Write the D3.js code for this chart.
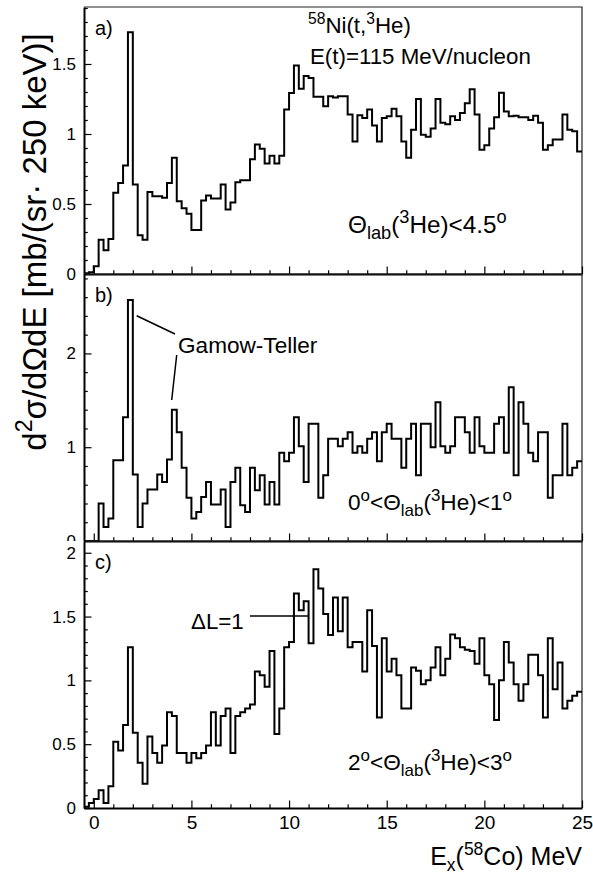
<!DOCTYPE html>
<html>
<head>
<meta charset="utf-8">
<script src="https://cdn.jsdelivr.net/npm/d3@7"></script>
<style>
  body { margin: 0; background: #fff; }
  text { font-family: "Liberation Sans", Arial, Helvetica, sans-serif; fill: #000; }
</style>
</head>
<body>
<svg id="chart" width="593" height="873"></svg>
<script>
// Excitation-energy binning (MeV)
const binWidth = 0.25;
const xMin = -0.5;
const xMax = 25;
const xMajorTicks = [0, 5, 10, 15, 20, 25];

// a) Theta_lab(3He) < 4.5 deg, counts per 250 keV bin starting at -0.5 MeV
const spectrumA = [
  0.005, 0.012, 0.055, 0.245, 0.17, 0.25, 0.58, 0.65, 0.775, 1.727,
  0.64, 0.276, 0.245, 0.585, 0.556, 0.556, 0.545, 0.65, 0.83, 0.52,
  0.47, 0.43, 0.315, 0.315, 0.525, 0.56, 0.54, 0.54, 0.64, 0.46,
  0.51, 0.655, 0.67, 0.67, 0.82, 0.925, 0.895, 0.79, 0.845, 0.79,
  0.845, 1.175, 1.293, 1.49, 1.323, 1.415, 1.40, 1.266, 1.266, 1.199,
  1.27, 1.26, 1.27, 1.27, 1.14, 0.947, 1.133, 1.115, 1.175, 1.06,
  0.947, 1.115, 1.127, 1.18, 1.127, 0.947, 0.83, 1.03, 1.25, 0.995,
  0.98, 1.04, 1.25, 1.08, 1.07, 1.127, 1.10, 1.15, 1.22, 1.32,
  1.14, 0.887, 0.92, 1.04, 1.12, 1.295, 1.16, 1.127, 1.13, 1.12,
  1.12, 1.10, 1.13, 1.08, 0.887, 0.92, 0.96, 0.96, 1.14, 1.03,
  1.02, 0.875
];

// b) 0 deg < Theta_lab(3He) < 1 deg
const spectrumB = [
  0, 0, 0, 0.40, 0.15, 0.24, 0.86, 0.86, 1.32, 2.57,
  0.71, 0.15, 0.40, 0.55, 0.55, 0.71, 0.63, 0.87, 1.40, 1.16,
  0.78, 0.46, 0.24, 0.31, 0.47, 0.63, 0.39, 0.39, 0.55, 0.15,
  0.63, 0.78, 0.38, 0.31, 0.78, 0.54, 0.70, 0.39, 0.63, 0.39,
  0.94, 0.85, 0.94, 1.32, 1.01, 0.63, 1.25, 1.25, 0.46, 0.70,
  1.09, 1.09, 1.01, 1.09, 1.16, 0.94, 1.01, 0.94, 1.09, 1.16,
  0.85, 1.16, 1.25, 1.09, 1.09, 0.78, 1.09, 1.25, 0.70, 1.25,
  1.25, 1.00, 1.48, 1.01, 0.94, 1.01, 1.32, 1.32, 1.16, 0.94,
  1.32, 1.01, 0.94, 0.94, 1.25, 1.32, 0.94, 1.64, 0.70, 1.48,
  1.25, 0.94, 0.85, 1.16, 1.16, 0.46, 0.70, 0.70, 1.25, 0.70,
  0.78, 0.85
];

// c) 2 deg < Theta_lab(3He) < 3 deg
const spectrumC = [
  0.01, 0.04, 0.07, 0.14, 0.04, 0.17, 0.52, 0.45, 0.65, 1.26,
  0.59, 0.355, 0.19, 0.56, 0.43, 0.355, 0.49, 0.75, 0.72, 0.43,
  0.43, 0.355, 0.43, 0.39, 0.43, 0.49, 0.75, 0.49, 0.72, 0.78,
  0.43, 0.72, 0.75, 0.78, 0.81, 1.07, 1.04, 0.95, 1.23, 0.58,
  0.78, 1.26, 1.30, 1.68, 1.55, 1.62, 1.29, 1.87, 1.72, 1.52,
  1.355, 1.65, 1.385, 1.65, 1.26, 1.30, 1.30, 1.07, 1.55, 1.27,
  0.71, 1.33, 1.07, 1.17, 1.04, 0.78, 0.78, 1.10, 1.075, 0.97,
  1.00, 1.10, 1.26, 1.04, 1.17, 1.36, 1.33, 1.26, 1.24, 1.23,
  1.13, 1.33, 1.04, 0.97, 0.69, 1.00, 1.30, 1.14, 0.97, 0.84,
  0.97, 1.20, 1.20, 1.04, 0.71, 1.33, 0.93, 1.14, 0.78, 0.84,
  0.88, 0.91
];

// Vertical axis ranges and tick marks per panel
const yMaxA = 1.907, yMaxB = 2.847, yMaxC = 2.092;
const yTicksA = [0, 0.5, 1, 1.5];
const yTicksB = [0, 1, 2];
const yTicksC = [0, 0.5, 1, 1.5, 2];
const yMinorStepA = 0.1, yMinorStepB = 0.2, yMinorStepC = 0.1;

// Layout
const W = 593, H = 873;
const frameLeft = 84, frameRight = 582;
const panelEdges = [7, 274, 541, 808];

const svg = d3.select("#chart");
svg.append("rect").attr("width", W).attr("height", H).attr("fill", "#fff");

const x = d3.scaleLinear().domain([xMin, xMax]).range([frameLeft, frameRight]);
const xMinor = d3.range(0, 25.001, 1);

const panels = [
  { key: "a", values: spectrumA, yMax: yMaxA, ticks: yTicksA, minor: yMinorStepA },
  { key: "b", values: spectrumB, yMax: yMaxB, ticks: yTicksB, minor: yMinorStepB },
  { key: "c", values: spectrumC, yMax: yMaxC, ticks: yTicksC, minor: yMinorStepC }
];

// helper: write text made of plain / superscript / subscript runs
function richText(sel, runs, size, scale = 0.7) {
  runs.forEach(([str, kind]) => {
    const t = sel.append("tspan").text(str);
    if (kind === "sup") t.attr("font-size", size * scale).attr("baseline-shift", size * 0.42 + "px");
    else if (kind === "sub") t.attr("font-size", size * scale).attr("baseline-shift", -size * 0.25 + "px");
  });
  return sel;
}

// panel b's tick labels are hidden below the boundary with panel c
svg.append("defs").append("clipPath").attr("id", "clipB")
  .append("rect").attr("x", 0).attr("y", 0).attr("width", W).attr("height", panelEdges[2]);

panels.forEach((p, i) => {
  const top = panelEdges[i], bottom = panelEdges[i + 1];
  const y = d3.scaleLinear().domain([0, p.yMax]).range([bottom, top]);
  const g = svg.append("g");

  // frame (top and right sides)
  g.append("path")
    .attr("d", `M${frameLeft},${top}H${frameRight}V${bottom}`)
    .attr("fill", "none").attr("stroke", "#222").attr("stroke-width", 1.2);

  // histogram outline
  const pts = p.values.map((v, k) => [xMin + k * binWidth, v]);
  pts.push([xMax, p.values[p.values.length - 1]]);
  const line = d3.line().x(d => x(d[0])).y(d => y(d[1])).curve(d3.curveStepAfter);
  g.append("path").attr("d", line(pts))
    .attr("fill", "none").attr("stroke", "#000").attr("stroke-width", 2)
    .attr("stroke-linejoin", "miter");

  // x axis (ticks point up into the panel)
  const xAxis = d3.axisBottom(x).tickValues(xMajorTicks).tickSize(-7.5).tickSizeOuter(0).tickPadding(8)
    .tickFormat(i === 2 ? d3.format("d") : () => "");
  const xa = g.append("g").attr("transform", `translate(0,${bottom})`).call(xAxis);
  const xm = g.append("g").attr("transform", `translate(0,${bottom})`)
    .call(d3.axisBottom(x).tickValues(xMinor.filter(v => v % 5 !== 0)).tickSize(-3.8).tickSizeOuter(0).tickFormat(() => ""));
  xm.select(".domain").remove();

  // y axis (ticks point right into the panel)
  const yLabelFmt = v => (v === 0 ? "0" : d3.format("~g")(v));
  const yWrap = g.append("g");
  if (i === 1) yWrap.attr("clip-path", "url(#clipB)");
  const ya = yWrap.append("g").attr("transform", `translate(${frameLeft},0)`)
    .call(d3.axisLeft(y).tickValues(p.ticks).tickSize(-7.5).tickSizeOuter(0).tickPadding(8).tickFormat(yLabelFmt));
  const minors = d3.range(0, p.yMax + 1e-9, p.minor).filter(v => !p.ticks.some(t => Math.abs(t - v) < 1e-6));
  const ym = g.append("g").attr("transform", `translate(${frameLeft},0)`)
    .call(d3.axisLeft(y).tickValues(minors).tickSize(-3.8).tickSizeOuter(0).tickFormat(() => ""));
  ym.select(".domain").remove();

  [xa, xm, ya, ym].forEach(a => {
    a.selectAll("line").attr("stroke", "#000").attr("stroke-width", 1.2);
    a.selectAll(".domain").attr("stroke", "#000").attr("stroke-width", 2);
    a.selectAll("text").attr("font-family", "Liberation Sans, Arial, sans-serif").attr("fill", "#000");
  });
  ya.selectAll("text").attr("font-size", 17);
  xa.selectAll("text").attr("font-size", 19);

  // panel letter
  g.append("text").attr("x", 95).attr("y", top + 28).attr("font-size", 20).text(p.key + ")");
});

// annotations
const fs = 22.3;
const fsThetaA = 24.3;
const fsThetaBC = 22.6;
richText(svg.append("text").attr("x", 308).attr("y", 33).attr("font-size", fs),
  [["58", "sup"], ["Ni(t,", null], ["3", "sup"], ["He)", null]], fs);
richText(svg.append("text").attr("x", 310).attr("y", 64).attr("font-size", fs),
  [["E(t)=115 MeV/nucleon", null]], fs);
richText(svg.append("text").attr("x", 348).attr("y", 233).attr("font-size", fsThetaA),
  [["\u0398", null], ["lab", "sub"], ["(", null], ["3", "sup"], ["He)<4.5", null], ["o", "sup"]], fsThetaA, 0.75);

svg.append("text").attr("x", 178).attr("y", 353).attr("font-size", 22.6).text("Gamow-Teller");
svg.append("path").attr("d", "M136.7,315.7L175,334M176.7,355L171.7,400")
  .attr("stroke", "#000").attr("stroke-width", 1.5).attr("fill", "none");
richText(svg.append("text").attr("x", 348).attr("y", 510).attr("font-size", fsThetaBC),
  [["0", null], ["o", "sup"], ["<\u0398", null], ["lab", "sub"], ["(", null], ["3", "sup"], ["He)<1", null], ["o", "sup"]], fsThetaBC, 0.75);

svg.append("text").attr("x", 191).attr("y", 629).attr("font-size", fs).text("\u0394L=1");
svg.append("path").attr("d", "M250,616H308")
  .attr("stroke", "#000").attr("stroke-width", 1.5).attr("fill", "none");
richText(svg.append("text").attr("x", 348).attr("y", 770).attr("font-size", fsThetaBC),
  [["2", null], ["o", "sup"], ["<\u0398", null], ["lab", "sub"], ["(", null], ["3", "sup"], ["He)<3", null], ["o", "sup"]], fsThetaBC, 0.75);

// axis titles
richText(svg.append("text").attr("x", 582).attr("y", 865).attr("font-size", 25).attr("text-anchor", "end"),
  [["E", null], ["x", "sub"], ["(", null], ["58", "sup"], ["Co) MeV", null]], 25);

const yTitle = svg.append("text").attr("transform", "translate(46,242) rotate(-90)")
  .attr("text-anchor", "middle").attr("font-size", 33);
richText(yTitle, [["d", null], ["2", "sup"], ["\u03c3/d\u03a9dE [mb/(sr", null], ["\u00b7", null], [" 250 keV)]", null]], 33);
</script>
</body>
</html>
